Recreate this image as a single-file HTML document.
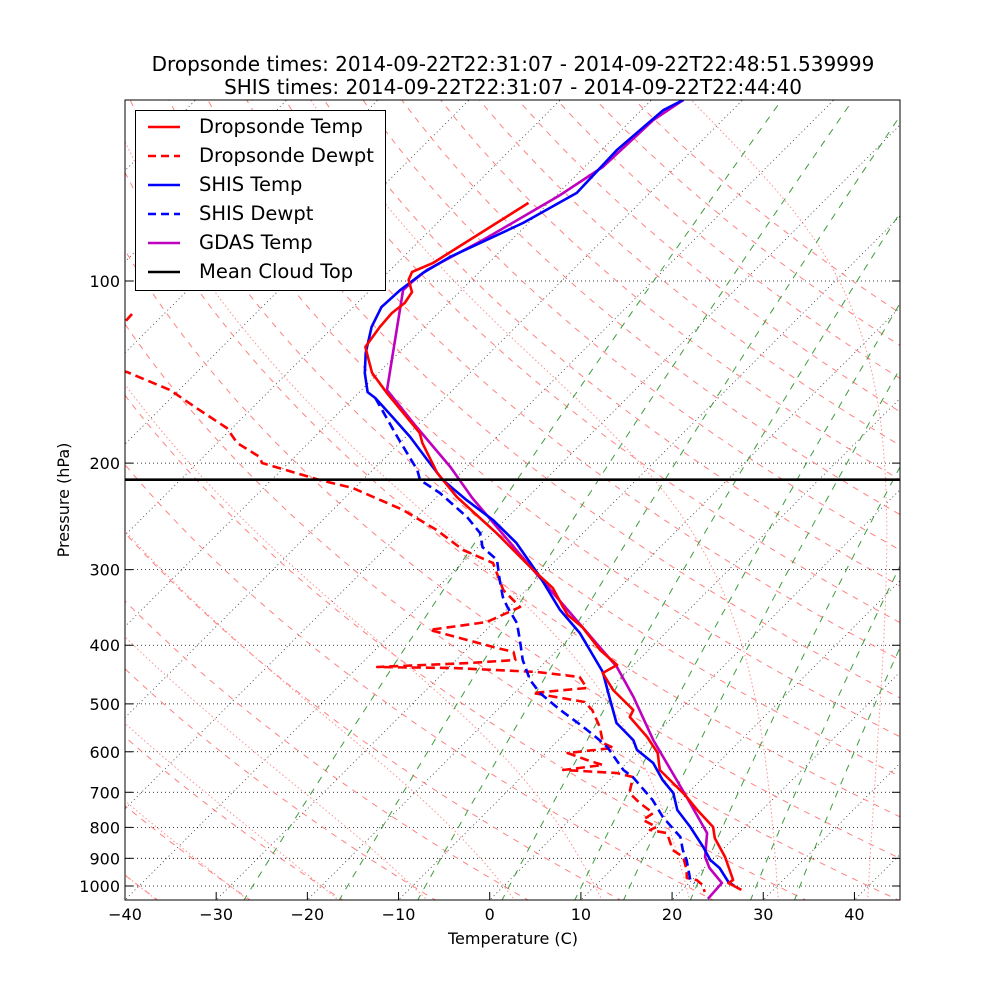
<!DOCTYPE html>
<html><head><meta charset="utf-8"><style>
body{margin:0;background:#fff;}
svg text{font-family:"DejaVu Sans","Liberation Sans",sans-serif;fill:#000;}
</style></head><body>
<svg id="chart" width="1000" height="1000" viewBox="0 0 1000 1000" xmlns="http://www.w3.org/2000/svg">
<rect x="0" y="0" width="1000" height="1000" fill="#fff"/>
<defs><clipPath id="clip"><rect x="125" y="100" width="775" height="800"/></clipPath></defs>
<text x="513" y="71" font-size="20" text-anchor="middle">Dropsonde times: 2014-09-22T22:31:07 - 2014-09-22T22:48:51.539999</text>
<text x="513" y="94" font-size="20" text-anchor="middle">SHIS times: 2014-09-22T22:31:07 - 2014-09-22T22:44:40</text>
<g id="bg" clip-path="url(#clip)"></g>
<g id="series" clip-path="url(#clip)"></g>
<g id="axes"></g>
<text x="513" y="944" font-size="16" text-anchor="middle">Temperature (C)</text>
<text x="0" y="0" font-size="16" text-anchor="middle" transform="translate(69,500) rotate(-90)">Pressure (hPa)</text>
<g>
<rect x="135.5" y="110.5" width="250" height="180" fill="#fff" stroke="#000" stroke-width="1"/>
<g><line x1="148" y1="127" x2="180" y2="127" stroke="#f00" stroke-width="2.5"/><text x="199" y="133" font-size="19.5">Dropsonde Temp</text></g>
<g><line x1="148" y1="156" x2="180" y2="156" stroke="#f00" stroke-width="2.5" stroke-dasharray="8,5"/><text x="199" y="162" font-size="19.5">Dropsonde Dewpt</text></g>
<g><line x1="148" y1="185" x2="180" y2="185" stroke="#00f" stroke-width="2.5"/><text x="199" y="191" font-size="19.5">SHIS Temp</text></g>
<g><line x1="148" y1="214" x2="180" y2="214" stroke="#00f" stroke-width="2.5" stroke-dasharray="8,5"/><text x="199" y="220" font-size="19.5">SHIS Dewpt</text></g>
<g><line x1="148" y1="243" x2="180" y2="243" stroke="#bf00bf" stroke-width="2.5"/><text x="199" y="249" font-size="19.5">GDAS Temp</text></g>
<g><line x1="148" y1="272" x2="180" y2="272" stroke="#000" stroke-width="2.5"/><text x="199" y="278" font-size="19.5">Mean Cloud Top</text></g>
</g>
</svg>
<script>
const pTicks=[100,200,300,400,500,600,700,800,900,1000];
const tTicks=[-40,-30,-20,-10,0,10,20,30,40];
const cloudTop=[213];
const dropP=[74.3,93.4,96.6,99.6,104.3,108.7,113.0,119.1,128.5,133.6,141.9,153.1,178.3,185.3,207.6,227.5,261,300.5,321.7,345.8,356.5,373.2,407.4,431.3,444.6,474.3,511.7,525.7,567.2,602.7,643.1,668.1,707.3,748.9,799.0,833.3,895.5,977.4,988.6,1015];
const dropT=[-72.2,-76.1,-77.4,-76.9,-75.2,-74.8,-75.1,-74.9,-74.3,-72.9,-70.7,-66.9,-58.9,-57.5,-52.6,-47.8,-39.5,-31.4,-27.3,-24.1,-22.7,-19.8,-15.3,-11.8,-12.5,-9.5,-5.1,-4.7,-0.6,2.3,4.4,6.6,9.9,12.9,16.5,17.9,21.1,24.5,24.3,26.5];
const dropTdP=[113.4,116.9,130,141.4,151.4,162.2,175.0,185.3,195.4,199.9,213.3,219.9,239.0,258.0,278.4,292.5,324.3,345.8,366.2,377.3,392.1,404.3,410.3,423.1,428.0,434.6,436.2,442.9,451.3,470.6,479.7,496.5,511.7,546.0,580.2,591.3,602.7,619.1,630.9,643.1,650.4,660.5,702.0,729.0,757.7,777.6,799.0,808.1,817.6,872.2,895.5,940.9,970.0,977.4,996.2,1023];
const dropTd=[-103.5,-103.4,-115,-97.7,-91.0,-86.1,-80.6,-77.8,-73.8,-72.9,-64.7,-60.2,-52.3,-46.4,-41.3,-36.6,-32.5,-28.8,-30.8,-36.2,-31.0,-26.8,-24.6,-23.5,-28.2,-37.9,-29.5,-19.8,-14.6,-12.6,-18.0,-11.3,-9.6,-6.9,-4.8,-3.1,-7.6,-4.7,-2.4,-6.2,0.0,2.2,3.6,5.8,8.4,8.0,10.3,9.9,12.1,14.6,16.5,18.3,19.2,20.5,21.7,22.7];
const shisP=[50.2,52.2,60.7,71.5,80.2,91.3,97.0,103.5,110.4,119.1,131.5,141.9,152.6,156.1,167.9,181.1,197.6,213.3,230.2,248.4,271.2,308.5,349.7,381.8,442.9,479.7,537.8,573.8,595.8,626.1,668.1,702.0,748.9,799.0,862.0,905.7,933.8,984.9,1000];
const shisT=[-66.5,-67.6,-68.3,-68.0,-70.6,-74.9,-76.1,-76.7,-76.9,-75.8,-73.6,-71.5,-69.1,-67.6,-63.6,-59.5,-55.1,-51.2,-46.4,-41.3,-36.2,-29.9,-24.1,-19.4,-12.6,-9.7,-5.5,-1.8,-0.3,2.9,5.8,8.4,10.7,14.0,17.6,19.8,21.7,24.2,25.3];
const shisTdP=[156.1,181.1,205.3,213.3,224.1,245.5,261,275.3,289.1,312.0,332.8,345.8,367.5,392.1,423.1,456.5,479.7,511.7,546.0,573.8,589.1,643.1,660.5,720.9,769.3,829.8,872.2,905.7,977.4,988.6];
const shisTd=[-67.6,-60.9,-55.1,-53.7,-50.1,-44.5,-41.3,-39.5,-36.5,-34.0,-31.8,-30.2,-27.4,-25.2,-22.7,-19.7,-17.2,-13.1,-8.7,-5.5,-3.9,0.4,2.2,6.9,9.9,14.0,15.7,17.2,19.8,20.6];
const gdasP=[50.2,54.2,64.8,72.1,85.5,95.9,100.4,103.5,151.4,174.3,203.0,228.4,300.5,434.6,487.0,573.8,712.8,817.6,895.5,933.8,988.6,1050];
const gdasT=[-66.5,-67.6,-68.0,-69.6,-73.1,-76.0,-76.3,-76.4,-67.2,-59.9,-51.8,-46.0,-31.4,-11.6,-6.5,0.4,10.3,16.5,18.9,20.6,23.6,23.8];
const dryT0=[];for(let t=-40;t<=200;t+=10)dryT0.push(t);
const moistT0=[-40,-30,-20,-10,0,10,20,30,40];
const mixW=[0.4,1,2,4,7,10,16,24,32];

const NS='http://www.w3.org/2000/svg';
function yP(p){return 886+605*Math.log10(p/1000);}
function xT(t,p){return 125+(t+40)*9.118+(900-yP(p));}
function mk(tag,attrs,parent){const e=document.createElementNS(NS,tag);for(const k in attrs)e.setAttribute(k,attrs[k]);parent.appendChild(e);return e;}
function pts(P,T){return P.map((p,i)=>xT(T[i],p).toFixed(1)+','+yP(p).toFixed(1)).join(' ');}
const bg=document.getElementById('bg'),sr=document.getElementById('series'),ax=document.getElementById('axes');
const pLevels=[];for(let p=1060;p>=45;p-=5)pLevels.push(p);

for(let t=-130;t<=50;t+=10){
 const l=mk('line',{x1:xT(t,1050),y1:yP(1050),x2:xT(t,50),y2:yP(50),stroke:'#000','stroke-width':0.8,'stroke-dasharray':'1,3',opacity:0.8},bg);
 
 
}
pTicks.forEach(p=>{
 const l=mk('line',{x1:125,y1:yP(p),x2:900,y2:yP(p),stroke:'#000','stroke-width':0.8,'stroke-dasharray':'1,3'},bg);
 
 
});
dryT0.forEach(t0=>{
 const th=t0+273.15;
 const s=pLevels.map(p=>xT(th*Math.pow(p/1000,0.2857)-273.15,p).toFixed(1)+','+yP(p).toFixed(1)).join(' ');
 const l=mk('polyline',{points:s,fill:'none',stroke:'#ff8080','stroke-width':1,'stroke-dasharray':'6,6'},bg);
 
 
});
function es(tc){return 6.112*Math.exp(17.67*tc/(tc+243.5));}
function moistRate(p,T){const rs=0.622*es(T-273.15)/(p-es(T-273.15));const Rd=287,Lv=2.5e6,Cp=1005,eps=0.622;
 return (1/p)*(Rd*T+Lv*rs)/(Cp+Lv*Lv*rs*eps/(Rd*T*T));}
moistT0.forEach(t0=>{
 let arr=[];let T=t0+273.15;
 for(let p=1000;p<=1060;p+=5){arr.push([p,T]);T+=moistRate(p,T)*5;}
 arr.reverse();T=t0+273.15;
 for(let p=1000;p>=45;p-=2){ if(p<1000)arr.push([p,T]); T-=moistRate(p,T)*2;}
 const s=arr.map(a=>xT(a[1]-273.15,a[0]).toFixed(1)+','+yP(a[0]).toFixed(1)).join(' ');
 const l=mk('polyline',{points:s,fill:'none',stroke:'#ff9090','stroke-width':1,'stroke-dasharray':'1.5,2.5'},bg);
 
 
});
mixW.forEach(w=>{
 const wk=w/1000;
 const s=pLevels.map(p=>{const e=wk*p/(0.622+wk);const lr=Math.log(e/6.112);const td=243.5*lr/(17.67-lr);return xT(td,p).toFixed(1)+','+yP(p).toFixed(1);}).join(' ');
 const l=mk('polyline',{points:s,fill:'none',stroke:'#3c9c3c','stroke-width':1,'stroke-dasharray':'7,7'},bg);
 
 
});
function series(P,T,col,dash,name){
 const a={points:pts(P,T),fill:'none',stroke:col,'stroke-width':2.6,'stroke-linejoin':'round'};
 if(dash)a['stroke-dasharray']='9,5';
 const l=mk('polyline',a,sr);
 
 
}
series(dropTdP,dropTd,'#f00',true,'dropsonde-dewpt-line');
series(shisTdP,shisTd,'#00f',true,'shis-dewpt-line');
series(gdasP,gdasT,'#bf00bf',false,'gdas-temp-line');
series(shisP,shisT,'#00f',false,'shis-temp-line');
series(dropP,dropT,'#f00',false,'dropsonde-temp-line');
const ct=mk('line',{x1:125,x2:900,y1:yP(cloudTop[0]),y2:yP(cloudTop[0]),stroke:'#000','stroke-width':2.6},sr);


const fr=mk('rect',{x:125,y:100,width:775,height:800,fill:'none',stroke:'#000','stroke-width':1},ax);


tTicks.forEach(t=>{
 const x=125+(t+40)*9.118;
 const tk=mk('line',{x1:x,x2:x,y1:900,y2:892,stroke:'#000','stroke-width':1},ax);
 
 
 const tx=mk('text',{x:x,y:920,'font-size':16,'text-anchor':'middle'},ax);
 tx.textContent=(t<0?'\u2212':'')+Math.abs(t);
 
 
});
pTicks.forEach(p=>{
 const y=yP(p);
 const tk=mk('line',{x1:125,x2:133,y1:y,y2:y,stroke:'#000','stroke-width':1},ax);
 
 
 const tk2=mk('line',{x1:892,x2:900,y1:y,y2:y,stroke:'#000','stroke-width':1},ax);
 
 
 const tx=mk('text',{x:120,y:y+6,'font-size':16,'text-anchor':'end'},ax);
 tx.textContent=p;
 
 
});
</script>
</body></html>
